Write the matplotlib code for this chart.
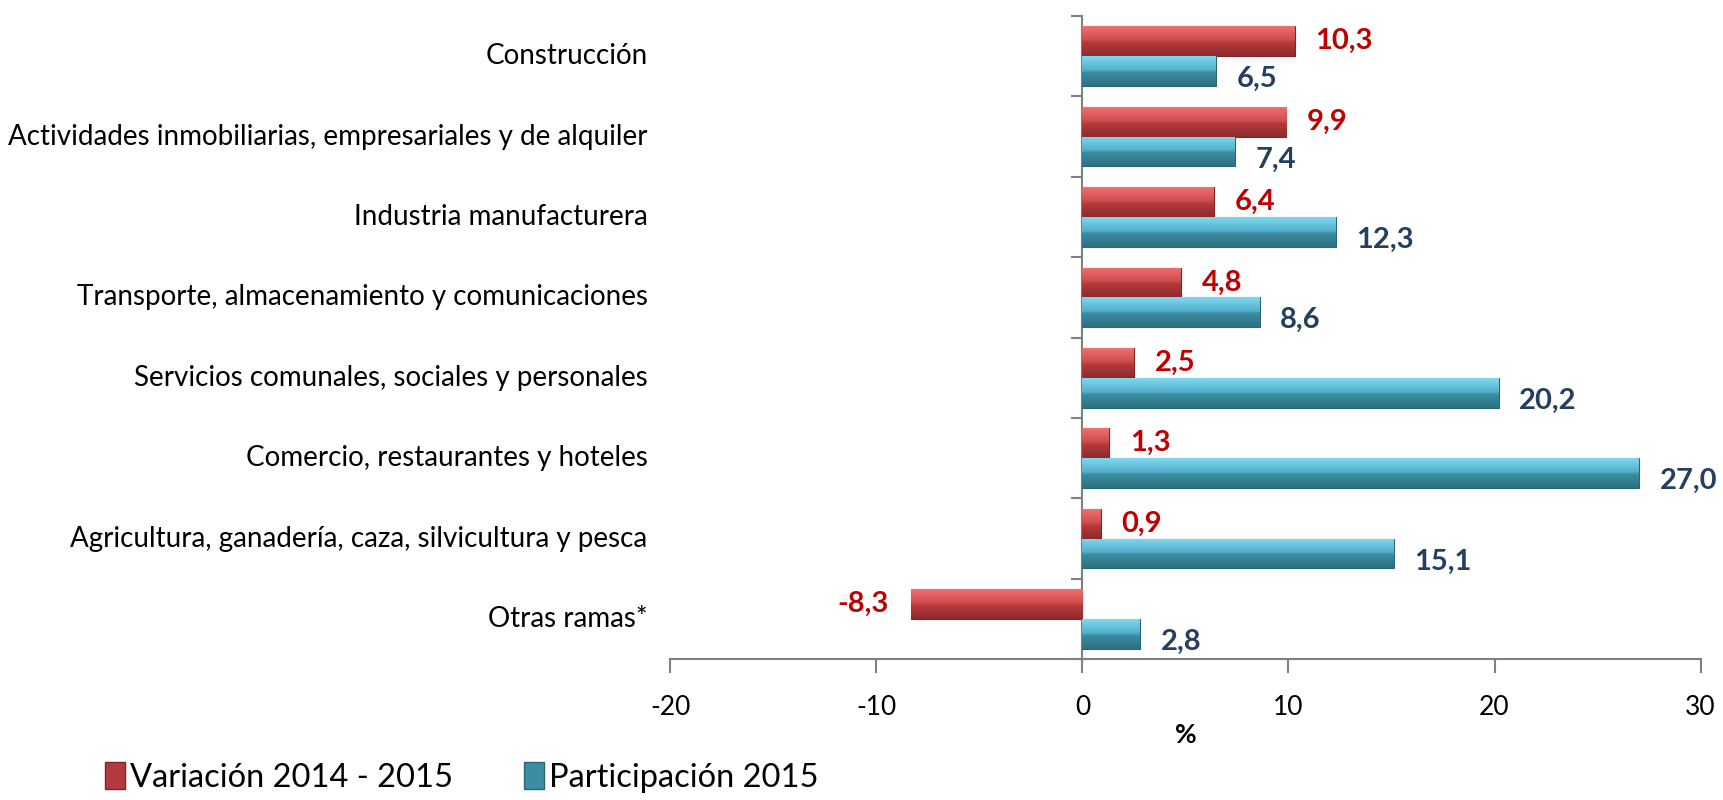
import matplotlib
matplotlib.use('Agg')
import matplotlib.pyplot as plt
import numpy as np
from matplotlib.patches import Patch
from matplotlib.colors import LinearSegmentedColormap

plt.rcParams['font.family'] = ['Lato', 'DejaVu Sans']
plt.rcParams['axes.unicode_minus'] = False

# ── 数据 ──────────────────────────────────────────────
sectores = ['Construcción',
            'Actividades inmobiliarias, empresariales y de alquiler',
            'Industria manufacturera',
            'Transporte, almacenamiento y comunicaciones',
            'Servicios comunales, sociales y personales',
            'Comercio, restaurantes y hoteles',
            'Agricultura, ganadería, caza, silvicultura y pesca',
            'Otras ramas*']
variacion = [10.3, 9.9, 6.4, 4.8, 2.5, 1.3, 0.9, -8.3]
participacion = [6.5, 7.4, 12.3, 8.6, 20.2, 27.0, 15.1, 2.8]

RED_D = '#A83234'
BLU_D = '#3A8A9E'
RED_TXT = '#C00000'
BLU_TXT = '#243F60'

# 渐变色（下深上浅）
cmap_red = LinearSegmentedColormap.from_list(
    'r', [(0, '#8E2A2C'), (0.45, '#B43A3C'), (0.55, '#D24C4E'), (1, '#EE7070')])
cmap_blu = LinearSegmentedColormap.from_list(
    'b', [(0, '#2C7082'), (0.45, '#3C8CA2'), (0.55, '#52B2CC'), (1, '#80D8EE')])

fig = plt.figure(figsize=(17.23, 8.0), dpi=100)
ax = fig.add_axes([0.389, 0.176, 0.598, 0.804])

n = len(sectores)
y = np.arange(n)[::-1].astype(float)
h = 0.37
grad = np.linspace(0, 1, 64).reshape(-1, 1)


def shade(bars, cmap, edge):
    for b in bars:
        b.set_edgecolor(edge)
        x0, y0 = b.get_x(), b.get_y()
        w, hh = b.get_width(), b.get_height()
        im = ax.imshow(grad, cmap=cmap, origin='lower', aspect='auto',
                       extent=[x0, x0 + w, y0, y0 + hh], zorder=3.5)
        im.set_clip_path(b)


bars_r = ax.barh(y + h / 2, variacion, height=h, color=RED_D, linewidth=0.8, zorder=3)
bars_b = ax.barh(y - h / 2, participacion, height=h, color=BLU_D, linewidth=0.8, zorder=3)
shade(bars_r, cmap_red, '#7E2426')
shade(bars_b, cmap_blu, '#2A6678')

for yi, v in zip(y, variacion):
    txt = f'{v:.1f}'.replace('.', ',')
    if v >= 0:
        ax.text(v + 1.0, yi + h / 2, txt, ha='left', va='center',
                color=RED_TXT, fontsize=21, fontweight='bold', zorder=5)
    else:
        ax.text(v - 1.1, yi + h / 2, txt, ha='right', va='center',
                color=RED_TXT, fontsize=21, fontweight='bold', zorder=5)

for yi, v in zip(y, participacion):
    txt = f'{v:.1f}'.replace('.', ',')
    ax.text(v + 1.0, yi - h / 2 - 0.1, txt, ha='left', va='center',
            color=BLU_TXT, fontsize=21, fontweight='bold', zorder=5)

ax.set_xlim(-20, 30)
ax.set_ylim(-0.5, n - 0.5)
ax.set_xticks([-20, -10, 0, 10, 20, 30])
ax.tick_params(axis='x', labelsize=19, length=10, width=1.5, color='#808080', pad=16)

# y 轴放在 0 处
ax.spines['left'].set_position(('data', 0))
ax.spines['left'].set_color('#808080')
ax.spines['left'].set_linewidth(1.5)
ax.spines['bottom'].set_color('#808080')
ax.spines['bottom'].set_linewidth(1.5)
ax.spines['top'].set_visible(False)
ax.spines['right'].set_visible(False)
ax.set_yticks(np.arange(-0.5, n, 1.0))
ax.set_yticklabels([])
ax.tick_params(axis='y', length=8, width=1.5, color='#808080')

# 类别标签放在左侧
for yi, name in zip(y, sectores):
    ax.text(-21.1, yi, name, ha='right', va='center', fontsize=20,
            clip_on=False)

ax.set_xlabel('%', fontsize=19, fontweight='bold', labelpad=2)

handles = [Patch(facecolor='#B43A3C', edgecolor='#7E2426', label='Variación 2014 - 2015'),
           Patch(facecolor='#3C8CA2', edgecolor='#2A6678', label='Participación 2015')]
fig.legend(handles=handles, loc='lower left', bbox_to_anchor=(0.044, -0.028),
           ncol=2, frameon=False, fontsize=23.5, handlelength=0.6,
           handleheight=0.9, handletextpad=0.15, columnspacing=2.2)

plt.savefig('out.png', dpi=100)
